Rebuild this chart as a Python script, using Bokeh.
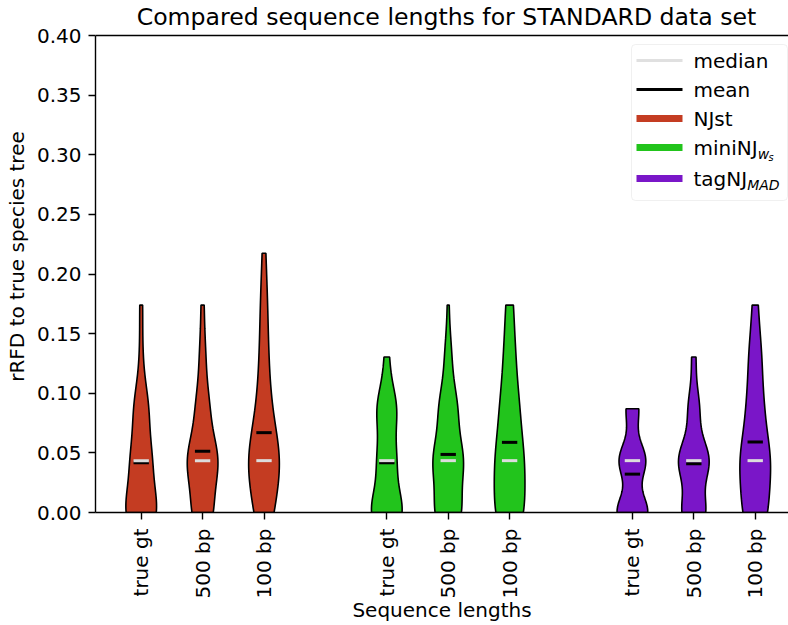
import numpy as np
from bokeh.plotting import figure
from bokeh.models import (Range1d, FixedTicker, BoxAnnotation, Span,
                          ColumnDataSource, PrintfTickFormatter)
from bokeh.core.properties import value
from bokeh.embed import file_html
from bokeh.resources import INLINE

# ---------------- data ----------------
TITLE = "Compared sequence lengths for STANDARD data set"
X_LABEL = "Sequence lengths"
Y_LABEL = "rRFD to true species tree"
methods = ["NJst", "miniNJ", "tagNJ"]
method_colors = ["#c43c22", "#22c41c", "#7a16c8"]
lengths = ["true gt", "500 bp", "100 bp"]
positions = [1, 2, 3, 5, 6, 7, 9, 10, 11]
rfd_step = 1.0 / 23.0            # rRFD values are multiples of 1/23
rfd_levels = [0, 1, 2, 3, 4, 5]  # in units of rfd_step
# number of replicates at each rRFD level, per sequence length
counts_njst = [[22, 14, 10, 2, 2, 0], [14, 21, 9, 4, 2, 0], [11, 20, 8, 5, 4, 2]]
counts_mininj = [[21, 12, 13, 3, 0, 0], [16, 18, 11, 4, 1, 0], [16, 15, 10, 6, 4, 0]]
counts_tagnj = [[22, 19, 9, 0, 0, 0], [17, 22, 8, 3, 0, 0], [14, 17, 9, 7, 3, 0]]
y_ticks = [0.0, 0.05, 0.10, 0.15, 0.20, 0.25, 0.30, 0.35, 0.40]
y_top = 0.40

FONT = "DejaVu Sans"
FSN = 20.0
FS = "%.1fpx" % FSN
VIOLIN_WIDTH = 0.5

# frame geometry (pixels) and ranges; the frame reaches the canvas top so that
# the title (drawn as text) sits in a known place; the axes stop at y_top
W, H = 788, 625
FL, FR, FT, FB = 95, 788, 0, 512
AXIS_TOP_PX = 35
PX_PER_Y = (FB - AXIS_TOP_PX) / y_top
XR0, XR1 = 0.2557, 11.542
YR0, YR1 = 0.0, y_top + (AXIS_TOP_PX - FT) / PX_PER_Y


def kde_violin(counts, pos):
    data = np.repeat(np.array(rfd_levels, float) * rfd_step, counts)
    n = len(data)
    h = data.std(ddof=1) * n ** (-0.2)
    coords = np.linspace(data.min(), data.max(), 100)
    dens = np.exp(-0.5 * ((coords[:, None] - data[None, :]) / h) ** 2).sum(axis=1)
    half = 0.5 * VIOLIN_WIDTH * dens / dens.max()
    xs = np.concatenate([pos - half, (pos + half)[::-1]])
    ys = np.concatenate([coords, coords[::-1]])
    return xs, ys, data.mean(), np.median(data)


all_counts = [counts_njst, counts_mininj, counts_tagnj]
vx, vy, vc, mx0, mx1, means, medians = [], [], [], [], [], [], []
k = 0
for mi, cset in enumerate(all_counts):
    for li, cnt in enumerate(cset):
        pos = positions[k]
        xs, ys, m, md = kde_violin(cnt, pos)
        vx.append(xs.tolist()); vy.append(ys.tolist()); vc.append(method_colors[mi])
        mx0.append(pos - 0.25 * VIOLIN_WIDTH); mx1.append(pos + 0.25 * VIOLIN_WIDTH)
        means.append(m); medians.append(md)
        k += 1

p = figure(width=W, height=H, x_range=Range1d(XR0, XR1), y_range=Range1d(YR0, YR1),
           output_backend="svg", toolbar_location=None, title=None,
           min_border_left=FL, min_border_right=W - FR, min_border_top=FT,
           min_border_bottom=H - FB)
p.outline_line_color = None
p.xgrid.visible = False
p.ygrid.visible = False
p.background_fill_color = "white"


# ---------------- layout helpers (pixel -> data) ----------------
def sx(px):
    return XR0 + (px - FL) * (XR1 - XR0) / (FR - FL)


def sy(py):
    return YR1 - (py - FT) * (YR1 - YR0) / (FB - FT)


# title
p.text(x=[sx(446)], y=[sy(16)], text=[TITLE], text_font=value(FONT),
       text_font_size="23.6px", text_color="black", text_align="center",
       text_baseline="middle")

# top spine
p.add_layout(Span(location=y_top, dimension="width", line_color="black", line_width=1.4))

p.patches(xs="xs", ys="ys", fill_color="color", line_color="black", line_width=1.6,
          source=ColumnDataSource(dict(xs=vx, ys=vy, color=vc)))
p.segment(x0="x0", x1="x1", y0="y", y1="y", line_color="black", line_width=3,
          source=ColumnDataSource(dict(x0=mx0, x1=mx1, y=means)))
p.segment(x0="x0", x1="x1", y0="y", y1="y", line_color="#dcdcdc", line_width=3,
          source=ColumnDataSource(dict(x0=mx0, x1=mx1, y=medians)))

for ax in (p.xaxis[0], p.yaxis[0]):
    ax.axis_line_width = 1.4
    ax.major_tick_line_width = 1.4
    ax.major_tick_out = 7
    ax.major_tick_in = 0
    ax.minor_tick_line_color = None
    ax.major_label_text_font = FONT
    ax.major_label_text_font_size = FS
    ax.major_label_text_color = "black"
    ax.axis_label_text_font = FONT
    ax.axis_label_text_font_size = FS
    ax.axis_label_text_font_style = "normal"
    ax.axis_label_text_color = "black"
    ax.major_label_standoff = 7

p.xaxis.ticker = FixedTicker(ticks=positions)
p.xaxis.major_label_overrides = {pos: lengths[i % 3] for i, pos in enumerate(positions)}
p.xaxis.major_label_orientation = np.pi / 2
p.xaxis.major_label_standoff = 9
p.xaxis.axis_label = X_LABEL
p.xaxis.axis_label_standoff = -3

p.yaxis.ticker = FixedTicker(ticks=y_ticks)
p.yaxis.bounds = (0, y_top)
p.yaxis.formatter = PrintfTickFormatter(format="%.2f")
p.yaxis.axis_label = Y_LABEL
p.yaxis.axis_label_standoff = 5

# ---------------- legend ----------------
p.add_layout(BoxAnnotation(left=sx(631), right=sx(787), top=sy(44), bottom=sy(200),
                           fill_color="white", fill_alpha=0.8, line_color="#cccccc",
                           line_width=1, border_radius=4, level="underlay"))
leg_labels = ["median", "mean"] + methods
leg_colors = ["#e0e0e0", "black"] + method_colors
leg_widths = [3, 3, 7, 7, 7]
leg_rows = [60, 89, 118, 147, 178]
for lab, col, lw, row in zip(leg_labels, leg_colors, leg_widths, leg_rows):
    p.segment(x0=[sx(636)], x1=[sx(682)], y0=[sy(row)], y1=[sy(row)],
              line_color=col, line_width=lw, line_cap="butt")
    p.text(x=[sx(693)], y=[sy(row)], text=[lab], text_font=value(FONT),
           text_font_size=FS, text_baseline="middle", text_align="left")

# subscripts (mathtext style)
p.text(x=[sx(693 + 3.207 * FSN)], y=[sy(147 + 6)], text=["w"], text_font=value(FONT),
       text_font_size="14px", text_font_style="italic", text_baseline="middle")
p.text(x=[sx(693 + 3.207 * FSN + 10.8)], y=[sy(147 + 10)], text=["s"], text_font=value(FONT),
       text_font_size="9.8px", text_font_style="italic", text_baseline="middle")
p.text(x=[sx(693 + 2.683 * FSN)], y=[sy(178 + 6)], text=["MAD"], text_font=value(FONT),
       text_font_size="14px", text_font_style="italic", text_baseline="middle")

open("out.html", "w").write(file_html(p, INLINE))
